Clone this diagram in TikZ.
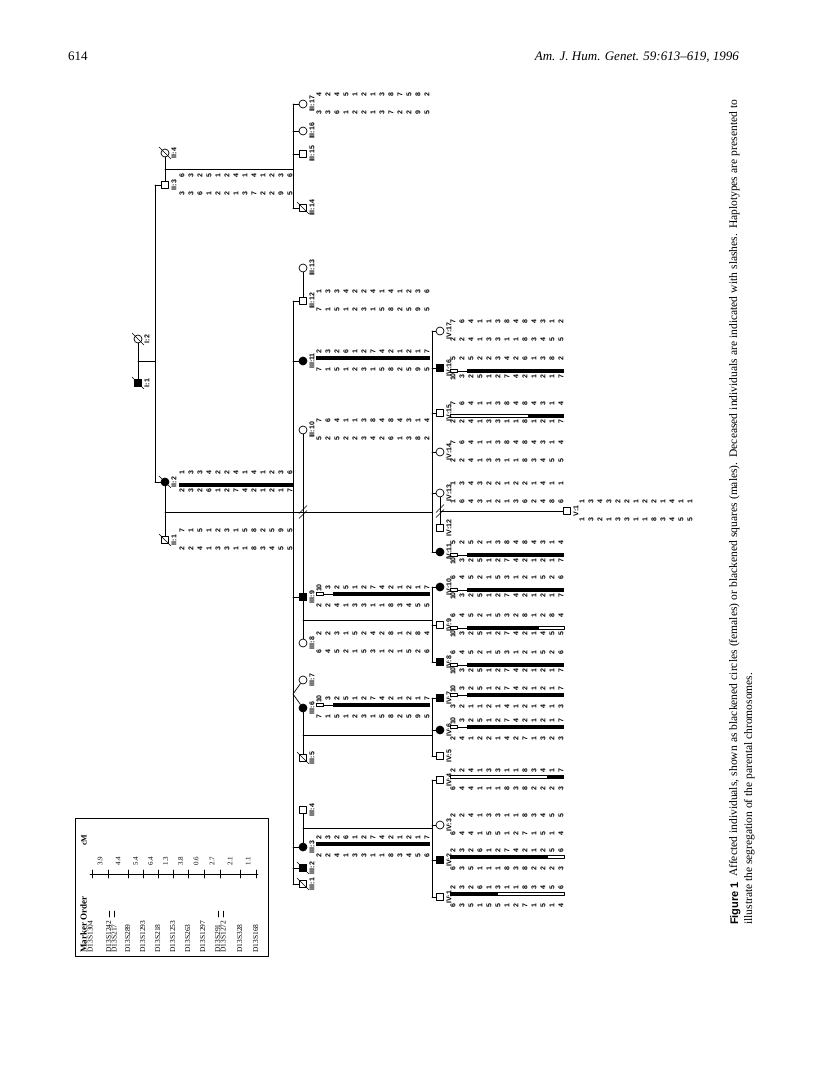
\documentclass[tikz,border=0pt]{standalone}
\usepackage{fontspec}
\setmainfont{Liberation Serif}
\newfontfamily\hapfont{Liberation Sans}
\usetikzlibrary{positioning}

\begin{document}
\begin{tikzpicture}[x=1pt,y=-1pt,line cap=round,line join=round,
  every node/.style={inner sep=0pt},
  ped/.style={line width=0.7pt},
  male/.style={draw,line width=0.7pt,fill=white,minimum size=7.5pt},
  female/.style={draw,circle,line width=0.7pt,fill=white,minimum size=8pt},
  aff/.style={fill=black},
  lab/.style={rotate=90,font=\hapfont\bfseries\fontsize{7}{7}\selectfont},
  dig/.style={rotate=90,font=\hapfont\bfseries\fontsize{7}{7}\selectfont},
  mk/.style={rotate=90,anchor=base west,font=\fontsize{7.5}{7.5}\selectfont},
  cmv/.style={rotate=90,font=\fontsize{7}{7}\selectfont}]
  \useasboundingbox (0,0) rectangle (816,1081);
  \def\pers#1#2#3#4#5{\node[#4] (#1) at (#2,#3) {};\node[lab] (#1l) at (#2+9,#3) {#5};}
  \def\dead#1{\draw[line width=0.6pt] ([shift={(-6,-6)}]#1.center) -- ([shift={(6,6)}]#1.center);}
  \def\divo#1{\draw[line width=0.6pt] ([shift={(-4,1.5)}]#1) -- ([shift={(4,-6.5)}]#1) ([shift={(-4,6.5)}]#1) -- ([shift={(4,-1.5)}]#1);}
  \def\hap#1#2#3#4{\foreach \a [count=\i] in {#4} {\node[dig] (#1-\i) at ({#2+9*(\i-1)},#3) {\a};}}
  \def\barfull#1#2{\fill (#1-3,#2-2.2) rectangle (#1+111,#2+2.2);}
  \def\barob#1#2{\draw[line width=0.5pt] (#1-3,#2-1.7) rectangle (#1+4,#2+1.7) (#1+4,#2) -- (#1+14,#2);\fill (#1+14,#2-2.2) rectangle (#1+111,#2+2.2);}
  \def\wseg#1#2#3{\draw[line width=0.5pt] (#1,#3-1.7) rectangle (#2,#3+1.7);}
  \def\kseg#1#2#3{\fill (#1,#3-2.2) rectangle (#2,#3+2.2);}

  \node[anchor=base west,font=\fontsize{13}{13}\selectfont] (pg) at (68,61) {614};
  \node[anchor=base east,font=\itshape\fontsize{13}{13}\selectfont] (jr) at (739,61) {Am. J. Hum. Genet. 59:613\textendash619, 1996};

  \pers{I2}{138}{339}{female}{I:2}
  \pers{I1}{138}{383}{male,aff}{I:1}

  \pers{II4}{165}{153}{female}{II:4}
  \pers{II3}{165}{185}{male}{II:3}
  \pers{II2}{165}{482}{female,aff}{II:2}
  \pers{II1}{165}{540}{male}{II:1}

  \pers{III17}{303}{104}{female}{III:17}
  \pers{III16}{303}{131}{female}{III:16}
  \pers{III15}{303}{154}{male}{III:15}
  \pers{III14}{303}{208}{male}{III:14}
  \pers{III13}{303}{268}{female}{III:13}
  \pers{III12}{303}{301}{male}{III:12}
  \pers{III11}{303}{361}{female,aff}{III:11}
  \pers{III10}{303}{430}{female}{III:10}
  \pers{III9}{303}{597}{male,aff}{III:9}
  \pers{III8}{303}{643}{female}{III:8}
  \pers{III7}{303}{680}{female}{III:7}
  \pers{III6}{303}{708}{female,aff}{III:6}
  \pers{III5}{303}{758}{male}{III:5}
  \pers{III4}{303}{810}{male}{III:4}
  \pers{III3}{303}{847}{female,aff}{III:3}
  \pers{III2}{303}{868}{male,aff}{III:2}
  \pers{III1}{303}{884}{male}{III:1}

  \pers{IV17}{440}{331}{female}{IV:17}
  \pers{IV16}{440}{368}{male,aff}{IV:16}
  \pers{IV15}{440}{413}{male}{IV:15}
  \pers{IV14}{440}{452}{female}{IV:14}
  \pers{IV13}{440}{493}{female}{IV:13}
  \pers{IV12}{440}{528}{male}{IV:12}
  \pers{IV11}{440}{552}{female,aff}{IV:11}
  \pers{IV10}{440}{587}{female,aff}{IV:10}
  \pers{IV9}{440}{625}{male}{IV:9}
  \pers{IV8}{440}{662}{male,aff}{IV:8}
  \pers{IV7}{440}{698}{male,aff}{IV:7}
  \pers{IV6}{440}{730}{female,aff}{IV:6}
  \pers{IV5}{440}{756}{male}{IV:5}
  \pers{IV4}{440}{780}{male}{IV:4}
  \pers{IV3}{440}{825}{female}{IV:3}
  \pers{IV2}{440}{860}{male,aff}{IV:2}
  \pers{IV1}{440}{897}{male}{IV:1}

  \pers{V1}{567}{511}{male}{V:1}

  \foreach \p in {I2,I1,II4,II2,II1,III14,III5,III2,III1} {\dead{\p}}

  \coordinate (sII) at (155,0);
  \coordinate (sIII) at (293,0);
  \coordinate (sIV) at (432,0);
  \coordinate (mI) at (138,361);
  \coordinate (mII34) at (165,169);
  \coordinate (mII12) at (165,512);
  \coordinate (mIII910) at (303,512);
  \coordinate (mIII98) at (303,620);
  \coordinate (mIII65) at (303,735);
  \coordinate (mIII34) at (303,828);
  \coordinate (mIV) at (440,511);
  \coordinate (tw) at (293,694);

  \begin{scope}[ped]
    \draw (I2) -- (I1) (mI) -- (mI -| sII);
    \draw (II3 -| sII) -- (II2 -| sII) (II3 -| sII) -- (II3) (II2 -| sII) -- (II2);
    \draw (II4) -- (II3) (mII34) -- (mII34 -| sIII);
    \draw (III17 -| sIII) -- (III14 -| sIII);
    \foreach \p in {III17,III16,III15,III14} \draw (\p -| sIII) -- (\p);
    \draw (II2) -- (II1) (mII12) -- (mIII910);
    \draw (III12 -| sIII) -- (III1 -| sIII);
    \foreach \p in {III12,III11,III9,III3,III2,III1} \draw (\p -| sIII) -- (\p);
    \draw (III7) -- (tw) -- (III6);
    \draw (III13) -- (III12) (III10) -- (III9) (III9) -- (III8) (III6) -- (III5) (III4) -- (III3);
    \draw (mIII910) -- (mIII910 -| sIV) (mIII98) -- (mIII98 -| sIV) (mIII65) -- (mIII65 -| sIV) (mIII34) -- (mIII34 -| sIV);
    \draw (IV17 -| sIV) -- (IV11 -| sIV) (IV10 -| sIV) -- (IV8 -| sIV) (IV7 -| sIV) -- (IV5 -| sIV) (IV4 -| sIV) -- (IV1 -| sIV);
    \foreach \p in {IV17,IV16,IV15,IV14,IV13,IV11,IV10,IV9,IV8,IV7,IV6,IV5,IV4,IV3,IV2,IV1} \draw (\p -| sIV) -- (\p);
    \draw (IV13) -- (IV12) (mIV) -- (V1);
  \end{scope}
  \divo{mIII910}
  \divo{mIV}

  \hap{II3a}{182}{176}{6,3,2,5,1,2,4,1,4,1,2,3,6}
  \hap{II3b}{182}{194}{3,3,6,1,2,2,1,3,7,2,2,9,5}
  \hap{II2a}{182}{473}{1,3,3,4,2,2,4,1,4,1,2,3,6}
  \barfull{182}{485}
  \hap{II2b}{182}{491}{2,3,2,6,1,2,7,4,2,1,2,1,7}
  \hap{II1a}{182}{531}{7,1,5,1,2,3,1,5,8,2,5,9,5}
  \hap{II1b}{182}{549}{2,2,4,1,3,3,1,1,8,3,4,5,5}

  \hap{III17a}{319}{95}{4,2,4,5,1,2,1,3,8,7,5,8,2}
  \hap{III17b}{319}{113}{3,3,6,1,2,2,1,3,7,2,2,9,5}
  \hap{III12a}{319}{292}{1,3,3,4,2,2,4,1,4,1,2,3,6}
  \hap{III12b}{319}{310}{7,1,5,1,2,3,1,5,8,2,5,9,5}
  \hap{III11a}{319}{352}{2,3,2,6,1,2,7,4,2,1,2,1,7}
  \barfull{319}{358}
  \hap{III11b}{319}{370}{7,1,5,1,2,3,1,5,8,2,5,9,5}
  \hap{III10a}{319}{421}{7,6,4,1,1,3,8,4,8,4,3,1,4}
  \hap{III10b}{319}{439}{5,2,5,2,2,3,4,2,6,1,3,8,2}
  \hap{III9a}{319}{588}{10,3,2,5,1,2,7,4,2,1,2,1,7}
  \barob{319}{594}
  \hap{III9b}{319}{606}{2,2,4,1,3,3,1,1,8,3,4,5,5}
  \hap{III8a}{319}{634}{2,2,3,1,5,2,4,2,8,1,2,8,4}
  \hap{III8b}{319}{652}{6,4,5,2,1,5,3,1,2,1,5,2,6}
  \hap{III6a}{319}{699}{10,3,2,5,1,2,7,4,2,1,2,1,7}
  \barob{319}{705}
  \hap{III6b}{319}{717}{7,1,5,1,2,3,1,5,8,2,5,9,5}
  \hap{III3a}{319}{838}{2,3,2,6,1,2,7,4,2,1,2,1,7}
  \barfull{319}{844}
  \hap{III3b}{319}{856}{2,2,4,1,3,3,1,1,8,3,4,5,6}

  \hap{IV17a}{453}{322}{7,6,4,1,1,3,8,4,8,4,3,1,2}
  \hap{IV17b}{453}{340}{2,2,4,1,3,3,1,1,8,3,4,5,5}
  \hap{IV16a}{453}{359}{5,2,5,2,2,3,4,2,6,1,3,8,2}
  \barob{453}{371}
  \hap{IV16b}{453}{377}{10,3,2,5,1,2,7,4,2,1,2,1,7}
  \hap{IV15a}{453}{404}{7,6,4,1,1,3,8,4,8,4,3,1,4}
  \wseg{450}{528.5}{416}
  \kseg{528.5}{564}{416}
  \hap{IV15b}{453}{422}{2,2,4,1,3,3,1,1,8,1,2,1,7}
  \hap{IV14a}{453}{443}{7,6,4,1,1,3,8,4,8,4,3,1,4}
  \hap{IV14b}{453}{461}{2,2,4,1,3,3,1,1,8,3,4,5,5}
  \hap{IV13a}{453}{484}{1,3,4,3,2,2,1,2,2,1,4,1,1}
  \hap{IV13b}{453}{502}{1,6,4,3,1,2,1,3,6,2,4,8,6}
  \hap{IV11a}{453}{543}{5,2,5,2,1,3,8,4,8,4,3,1,4}
  \barob{453}{555}
  \hap{IV11b}{453}{561}{10,3,2,5,1,2,7,4,2,1,2,1,7}
  \hap{IV10a}{453}{578}{6,4,5,2,1,5,3,1,2,1,5,2,6}
  \barob{453}{590}
  \hap{IV10b}{453}{596}{10,3,2,5,1,2,7,4,2,1,2,1,7}
  \hap{IV9a}{453}{616}{6,4,5,2,1,5,3,2,8,1,2,8,4}
  \wseg{450}{457}{628}
  \draw[line width=0.5pt] (457,628) -- (467,628);
  \kseg{467}{538.5}{628}
  \wseg{538.5}{564}{628}
  \hap{IV9b}{453}{634}{10,3,2,5,1,2,7,4,2,1,4,5,5}
  \hap{IV8a}{453}{653}{6,4,5,2,1,5,3,1,2,1,5,2,6}
  \barob{453}{665}
  \hap{IV8b}{453}{671}{10,3,2,5,1,2,7,4,2,1,2,1,7}
  \hap{IV7a}{453}{689}{10,3,2,5,1,2,7,4,2,1,2,1,7}
  \barob{453}{695}
  \hap{IV7b}{453}{707}{3,2,1,1,2,1,4,1,2,1,4,1,3}
  \hap{IV6a}{453}{721}{10,3,2,5,1,2,7,4,2,1,2,1,7}
  \barob{453}{727}
  \hap{IV6b}{453}{739}{2,4,1,2,2,1,4,2,7,1,3,2,3}
  \hap{IV4a}{453}{771}{2,2,4,1,3,3,1,1,8,3,4,1,7}
  \wseg{450}{547.5}{777}
  \kseg{547.5}{564}{777}
  \hap{IV4b}{453}{789}{6,4,4,1,1,1,8,3,8,2,2,2,3}
  \hap{IV3a}{453}{816}{2,2,4,1,3,3,1,1,8,3,4,5,5}
  \hap{IV3b}{453}{834}{6,4,4,1,5,5,1,2,7,1,5,1,4}
  \hap{IV2a}{453}{851}{2,3,2,6,1,2,7,4,2,1,2,5,6}
  \kseg{450}{547.5}{857}
  \wseg{547.5}{564}{857}
  \hap{IV2b}{453}{869}{6,3,5,1,1,1,8,3,8,2,2,2,3}
  \hap{IV1a}{453}{888}{2,3,2,6,1,3,1,1,8,3,4,5,6}
  \kseg{450}{497.5}{894}
  \wseg{497.5}{564}{894}
  \hap{IV1b}{453}{906}{6,3,5,1,5,5,1,2,7,1,5,1,4}

  \hap{V1a}{582}{502}{1,3,4,3,2,2,1,2,2,1,4,1,1}
  \hap{V1b}{582}{520}{1,3,2,1,3,3,1,1,8,3,4,5,5}

  \draw[line width=0.8pt] (75,818) rectangle (268,956);
  \node[rotate=90,anchor=base west,font=\bfseries\fontsize{9}{9}\selectfont] (mo) at (86.5,953) {Marker Order};
  \node[rotate=90,font=\bfseries\fontsize{8}{8}\selectfont] (cm) at (84,840) {cM};
  \foreach \m/\x [count=\k] in {D13S1304/92.5,D13S1242/111,D13S217/116.5,D13S289/130,D13S1293/145,D13S218/160,D13S1253/175,D13S263/190,D13S1297/205,D13S291/220,D13S1272/225.5,D13S328/242,D13S168/258}
    \node[mk] (mk\k) at (\x,953) {\m};
  \foreach \x in {109,114.5,218,223.5} \draw[line width=0.5pt] (\x,911) -- (\x,917);
  \draw[line width=0.6pt] (90,874) -- (258,874);
  \foreach \x in {92,108,128,143,158,173,188,204,220,240,256} \draw[line width=0.6pt] (\x,870) -- (\x,878);
  \foreach \v/\x [count=\k] in {3.9/100,4.4/118,5.4/135.5,6.4/150.5,1.3/165.5,3.8/180.5,0.6/196,2.7/212,2.1/230,1.1/248}
    \node[cmv] (cm\k) at (\x,861) {\v};

  \node[rotate=90,anchor=base west,font=\hapfont\bfseries\fontsize{11}{11}\selectfont] (fig) at (738,925) {Figure 1};
  \node[rotate=90,anchor=base west,font=\fontsize{11.5}{11.5}\selectfont] (cap1) at (737,877) {\makebox[777pt][s]{Affected individuals, shown as blackened circles (females) or blackened squares (males). Deceased individuals are indicated with slashes. Haplotypes are presented to}};
  \node[rotate=90,anchor=base west,font=\fontsize{11.5}{11.5}\selectfont] (cap2) at (752,925) {illustrate the segregation of the parental chromosomes.};
\end{tikzpicture}
\end{document}
